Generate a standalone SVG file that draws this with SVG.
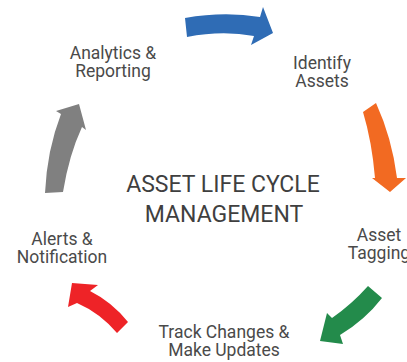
<svg xmlns="http://www.w3.org/2000/svg" width="407" height="362" viewBox="0 0 407 362">
<style>
.lbl{font-family:Roboto,"Liberation Sans",sans-serif;font-size:17.5px;fill:#4a4a4a;text-anchor:middle}
.ttl{font-family:Roboto,"Liberation Sans",sans-serif;font-size:23px;fill:#3f3f3f;text-anchor:middle}
</style>
<rect width="407" height="362" fill="#ffffff"/>
<g id="connectors">
<path id="arrow-blue" fill="#2f6cb5" d="M185,18 Q224,11 260,17 L263,7 L273,33 L251,45 L254,36 Q222,30 187,37 Z"/>
<path id="arrow-orange" fill="#f26a22" d="M363,112 L376,103 Q392,138 397,178 L406,178 L390,192 L372,178 L375,178 Q372,142 363,112 Z"/>
<path id="arrow-green" fill="#238b4b" d="M368,286 Q352,304 332,318 L327,313 L320,341 L343,344 L340,335 Q365,320 382,298 Z"/>
<path id="arrow-red" fill="#ee2327" d="M72,283 L98,285 L90,291 Q112,302 128,322 L117,333 Q100,313 77,303 L68,307 Z"/>
<path id="arrow-grey" fill="#808080" d="M45,193 Q47,150 61,114 L56,111 L79,104 L86,130 L82,127 Q69,155 63,192 Z"/>
</g>
<g id="node-analytics"><text class="lbl" x="113" y="59">Analytics &amp;</text><text class="lbl" x="113" y="77">Reporting</text></g>
<g id="node-identify"><text class="lbl" x="322" y="69">Identify</text><text class="lbl" x="322" y="87">Assets</text></g>
<g id="node-tagging"><text class="lbl" x="379" y="241">Asset</text><text class="lbl" x="379" y="259">Tagging</text></g>
<g id="node-track"><text class="lbl" x="224" y="338">Track Changes &amp;</text><text class="lbl" x="224" y="356">Make Updates</text></g>
<g id="node-alerts"><text class="lbl" x="62" y="245">Alerts &amp;</text><text class="lbl" x="62" y="263">Notification</text></g>
<g id="node-center"><text class="ttl" x="223" y="192">ASSET LIFE CYCLE</text><text class="ttl" x="224" y="222">MANAGEMENT</text></g>
</svg>
